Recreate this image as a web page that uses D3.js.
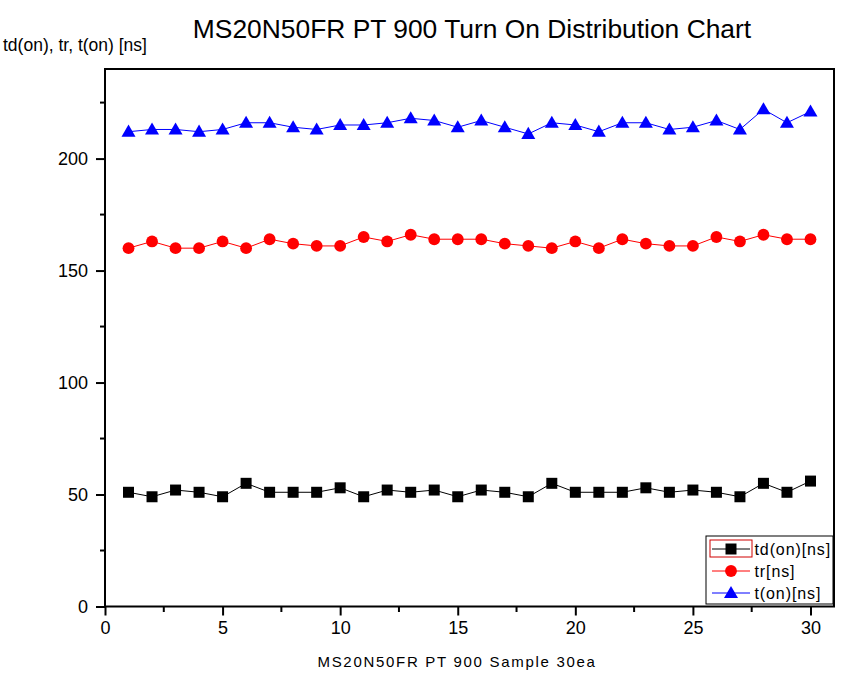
<!DOCTYPE html>
<html><head><meta charset="utf-8">
<script src="https://cdn.jsdelivr.net/npm/d3@7"></script>
<style>body{margin:0;background:#fff}svg{display:block}text{font-family:"Liberation Sans",Arial,sans-serif}</style>
</head><body><svg id="c" width="841" height="673"></svg>
<script>
const samples = d3.range(1, 31);
const tdOn = [51,49,52,51,49,55,51,51,51,53,49,52,51,52,49,52,51,49,55,51,51,51,53,51,52,51,49,55,51,56];
const tr   = [160,163,160,160,163,160,164,162,161,161,165,163,166,164,164,164,162,161,160,163,160,164,162,161,161,165,163,166,164,164];
const tOn  = [212,213,213,212,213,216,216,214,213,215,215,216,218,217,214,217,214,211,216,215,212,216,216,213,214,217,213,222,216,221];
const xTicks = [0,5,10,15,20,25,30];
const yTicks = [0,50,100,150,200];
const seriesNames = ["td(on)[ns]","tr[ns]","t(on)[ns]"];
const seriesColors = ["#000000","#ff0000","#0000ff"];
const seriesShapes = ["square","circle","triangle"];
const seriesData = [tdOn, tr, tOn];

const svg = d3.select("#c");
const x = d3.scaleLinear().domain([0,31]).range([105,834]);
const y = d3.scaleLinear().domain([0,240]).range([606.5,69]);

// minor ticks
const xMinor = d3.range(2.5, 31, 5);
const yMinor = d3.range(25, 240, 50);
svg.append("g").selectAll("line").data(xMinor).join("line")
  .attr("x1",d=>x(d)).attr("x2",d=>x(d)).attr("y1",606.5).attr("y2",612)
  .attr("stroke","#000").attr("stroke-width",2);
svg.append("g").selectAll("line").data(yMinor).join("line")
  .attr("y1",d=>y(d)).attr("y2",d=>y(d)).attr("x1",105).attr("x2",100)
  .attr("stroke","#000").attr("stroke-width",2);

// axes
const xAxis = d3.axisBottom(x).tickValues(xTicks).tickSize(9).tickPadding(6).tickFormat(d3.format("d"));
const yAxis = d3.axisLeft(y).tickValues(yTicks).tickSize(9).tickPadding(8).tickFormat(d3.format("d"));
const gx = svg.append("g").attr("transform","translate(0,606.5)").call(xAxis);
const gy = svg.append("g").attr("transform","translate(105,0)").call(yAxis);
[gx,gy].forEach(g=>{
  g.select(".domain").remove();
  g.selectAll(".tick line").attr("stroke","#000").attr("stroke-width",2);
  g.selectAll(".tick text").attr("font-size",18).attr("fill","#000").attr("font-family","Liberation Sans, Arial, sans-serif");
});

// frame
svg.append("rect").attr("x",105).attr("y",69).attr("width",834-105).attr("height",606.5-69)
  .attr("fill","none").attr("stroke","#000").attr("stroke-width",2);

const sym = {
  square: d3.symbol().type(d3.symbolSquare).size(121),
  circle: d3.symbol().type(d3.symbolCircle).size(110),
  triangle: d3.symbol().type(d3.symbolTriangle).size(85)
};

seriesData.forEach((vals,i)=>{
  const pts = samples.map((s,j)=>[s, vals[j]]);
  svg.append("path").datum(pts)
    .attr("d", d3.line().x(d=>x(d[0])).y(d=>y(d[1])))
    .attr("fill","none").attr("stroke",seriesColors[i]).attr("stroke-width",1);
  svg.append("g").selectAll("path").data(pts).join("path")
    .attr("d", sym[seriesShapes[i]]())
    .attr("transform",d=>`translate(${x(d[0])},${y(d[1]) + (seriesShapes[i]==="triangle"?1:0)})`)
    .attr("fill",seriesColors[i]);
});

// legend
const lg = svg.append("g");
lg.append("rect").attr("x",706).attr("y",536).attr("width",127).attr("height",68)
  .attr("fill","#fff").attr("stroke","#000").attr("stroke-width",1);
lg.append("rect").attr("x",710).attr("y",540).attr("width",42).attr("height",17)
  .attr("fill","none").attr("stroke","#d00000").attr("stroke-width",1);
const rowsY = [549, 571, 593];
seriesNames.forEach((n,i)=>{
  lg.append("line").attr("x1",712).attr("x2",750).attr("y1",rowsY[i]).attr("y2",rowsY[i])
    .attr("stroke",seriesColors[i]).attr("stroke-width",1);
  lg.append("path").attr("d", sym[seriesShapes[i]]())
    .attr("transform",`translate(731,${rowsY[i] + (seriesShapes[i]==="triangle"?1:0)})`).attr("fill",seriesColors[i]);
  lg.append("text").attr("x",754.5).attr("y",rowsY[i]+6).attr("font-size",16).attr("letter-spacing",0.9).text(n);
});

// titles
svg.append("text").attr("x",472).attr("y",38).attr("text-anchor","middle").attr("font-size",26.4).text("MS20N50FR PT 900 Turn On Distribution Chart");
svg.append("text").attr("x",3).attr("y",50.5).attr("font-size",17.5).text("td(on), tr, t(on) [ns]");
svg.append("text").attr("x",457).attr("y",667).attr("text-anchor","middle").attr("font-size",15).attr("letter-spacing",1.7).text("MS20N50FR PT 900 Sample 30ea");
</script></body></html>
